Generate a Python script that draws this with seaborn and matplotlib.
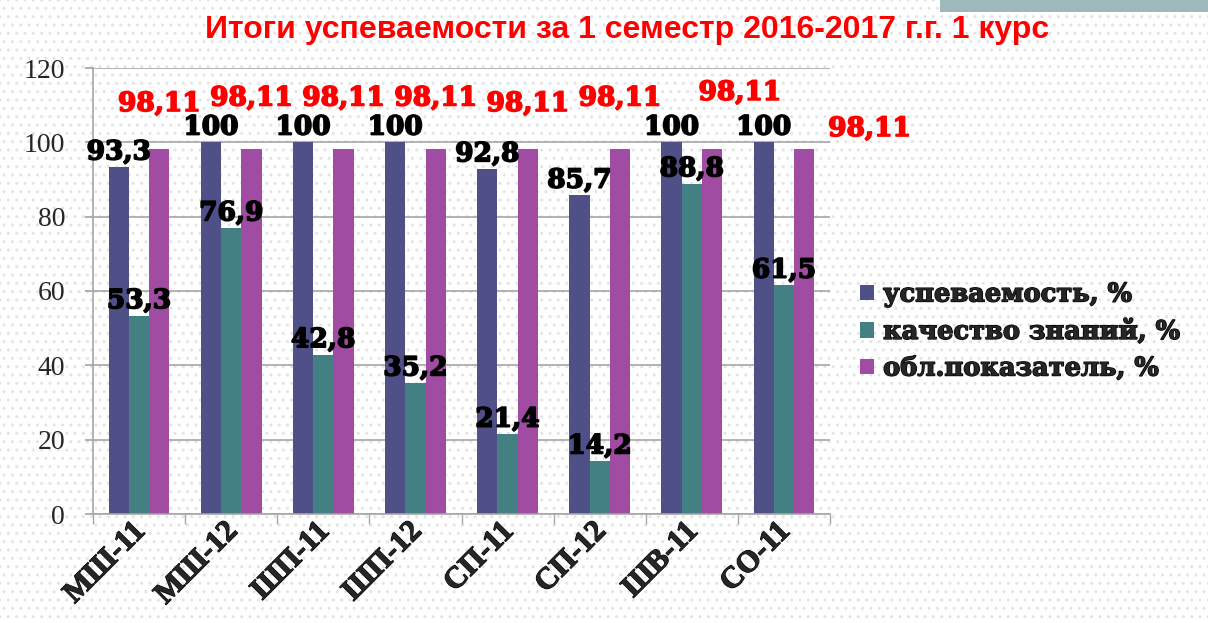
import numpy as np
import pandas as pd
import matplotlib
matplotlib.use("Agg")
import matplotlib.pyplot as plt
import matplotlib.patheffects as pe
import matplotlib.transforms as mtransforms
import seaborn as sns
from matplotlib.patches import Rectangle, Patch

groups = ["МШ-11", "МШ-12", "ШП-11", "ШП-12", "СП-11", "СП-12", "ШВ-11", "СО-11"]
series = ["успеваемость, %", "качество знаний, %", "обл.показатель, %"]
uspev = [93.3, 100, 100, 100, 92.8, 85.7, 100, 100]
kachestvo = [53.3, 76.9, 42.8, 35.2, 21.4, 14.2, 88.8, 61.5]
obl = [98.11, 98.11, 98.11, 98.11, 98.11, 98.11, 98.11, 98.11]
title = "Итоги успеваемости за 1 семестр 2016-2017 г.г. 1 курс"

colors = ["#4f5088", "#428083", "#a04ca3"]
# offsets (points) of the red labels, as placed on the slide
red_offsets = [(0, 33), (0, 37), (0, 37), (0, 37), (0, 33), (0, 37), (20, 41), (47, 15)]

df = pd.DataFrame({
    "group": groups * 3,
    "series": [series[0]] * 8 + [series[1]] * 8 + [series[2]] * 8,
    "value": uspev + kachestvo + obl,
})

sns.set_theme(style="white")
plt.rcParams["font.family"] = ["Liberation Serif", "DejaVu Serif"]

fig = plt.figure(figsize=(12.08, 6.23), dpi=100)
# dotted slide background + grey strip at top right
fig.patches.append(Rectangle((0, 0), 1, 1, transform=fig.transFigure, facecolor="white",
                             edgecolor="#e4e4e4", hatch="..", linewidth=0, zorder=-10))
fig.patches.append(Rectangle((940 / 1208, 1 - 12 / 623), 268 / 1208, 12 / 623, transform=fig.transFigure,
                             facecolor="#9fb9bb", edgecolor="none", zorder=-5))

ax = fig.add_axes([93 / 1208, 1 - 514 / 623, 737 / 1208, 446 / 623])
ax.patch.set_alpha(0)

sns.barplot(data=df, x="group", y="value", hue="series", palette=colors, saturation=1,
            width=0.66, gap=0, linewidth=0, ax=ax, legend=False)

ax.set_ylim(0, 120)
ax.set_xlim(-0.5, 7.5)
ax.set_yticks(range(0, 121, 20))
ax.yaxis.grid(True, color="#a6a6a6", linewidth=1.2)
ax.set_axisbelow(True)
for s in ["top", "right"]:
    ax.spines[s].set_visible(False)
for s in ["left", "bottom"]:
    ax.spines[s].set_color("#a6a6a6")
    ax.spines[s].set_linewidth(1.2)
ax.set_xlabel("")
ax.set_ylabel("")

ax.tick_params(axis="y", which="major", length=6, color="#a6a6a6", labelsize=20, pad=14, left=True)
ax.tick_params(axis="x", which="major", length=0, pad=4)
ax.set_xticks(np.arange(-0.5, 8, 1), minor=True)
ax.tick_params(axis="x", which="minor", length=7, color="#a6a6a6", bottom=True)
ax.set_xticks(range(len(groups)))
ax.set_xticklabels(groups, rotation=45, ha="right", rotation_mode="anchor",
                   fontsize=22, fontweight="bold")
shift = mtransforms.ScaledTranslation(-6 / 72, 2 / 72, fig.dpi_scale_trans)
for lbl in ax.get_xticklabels():
    lbl.set_transform(lbl.get_transform() + shift)
    lbl.set_path_effects([pe.withStroke(linewidth=0.8, foreground="black")])

label_font = dict(fontsize=19, fontweight="bold", family=["DejaVu Serif"])
for cont in ax.containers[:2]:
    vals = [p.get_height() for p in cont.patches]
    texts = ax.bar_label(cont, labels=[f"{v:g}".replace(".", ",") for v in vals], padding=2,
                         color="black", **label_font)
    for t in texts:
        t.set_path_effects([pe.withStroke(linewidth=1.2, foreground="black")])

for p, off in zip(ax.containers[2].patches, red_offsets):
    ax.annotate(f"{p.get_height():.2f}".replace(".", ","),
                (p.get_x() + p.get_width() / 2, p.get_height()),
                xytext=off, textcoords="offset points", ha="center", va="center",
                color="#ff0000", annotation_clip=False,
                path_effects=[pe.withStroke(linewidth=1.2, foreground="#ff0000")], **label_font)

handles = [Patch(facecolor=c, edgecolor="none") for c in colors]
leg = fig.legend(handles, series, loc="center left", bbox_to_anchor=(860 / 1208, 1 - 331 / 623),
                 frameon=False, prop=dict(size=18.5, weight="bold", family="DejaVu Serif"),
                 handlelength=0.55, handleheight=0.55, handletextpad=0.35, labelspacing=0.45,
                 borderpad=0, borderaxespad=0)
for t in leg.get_texts():
    t.set_path_effects([pe.withStroke(linewidth=1.0, foreground="black")])

fig.text(627 / 1208, 1 - 30 / 623, title, ha="center", va="center", color="#ff0000",
         fontsize=23, fontweight="bold", family=["Liberation Sans", "DejaVu Sans"])

fig.savefig("out.png", dpi=100)
